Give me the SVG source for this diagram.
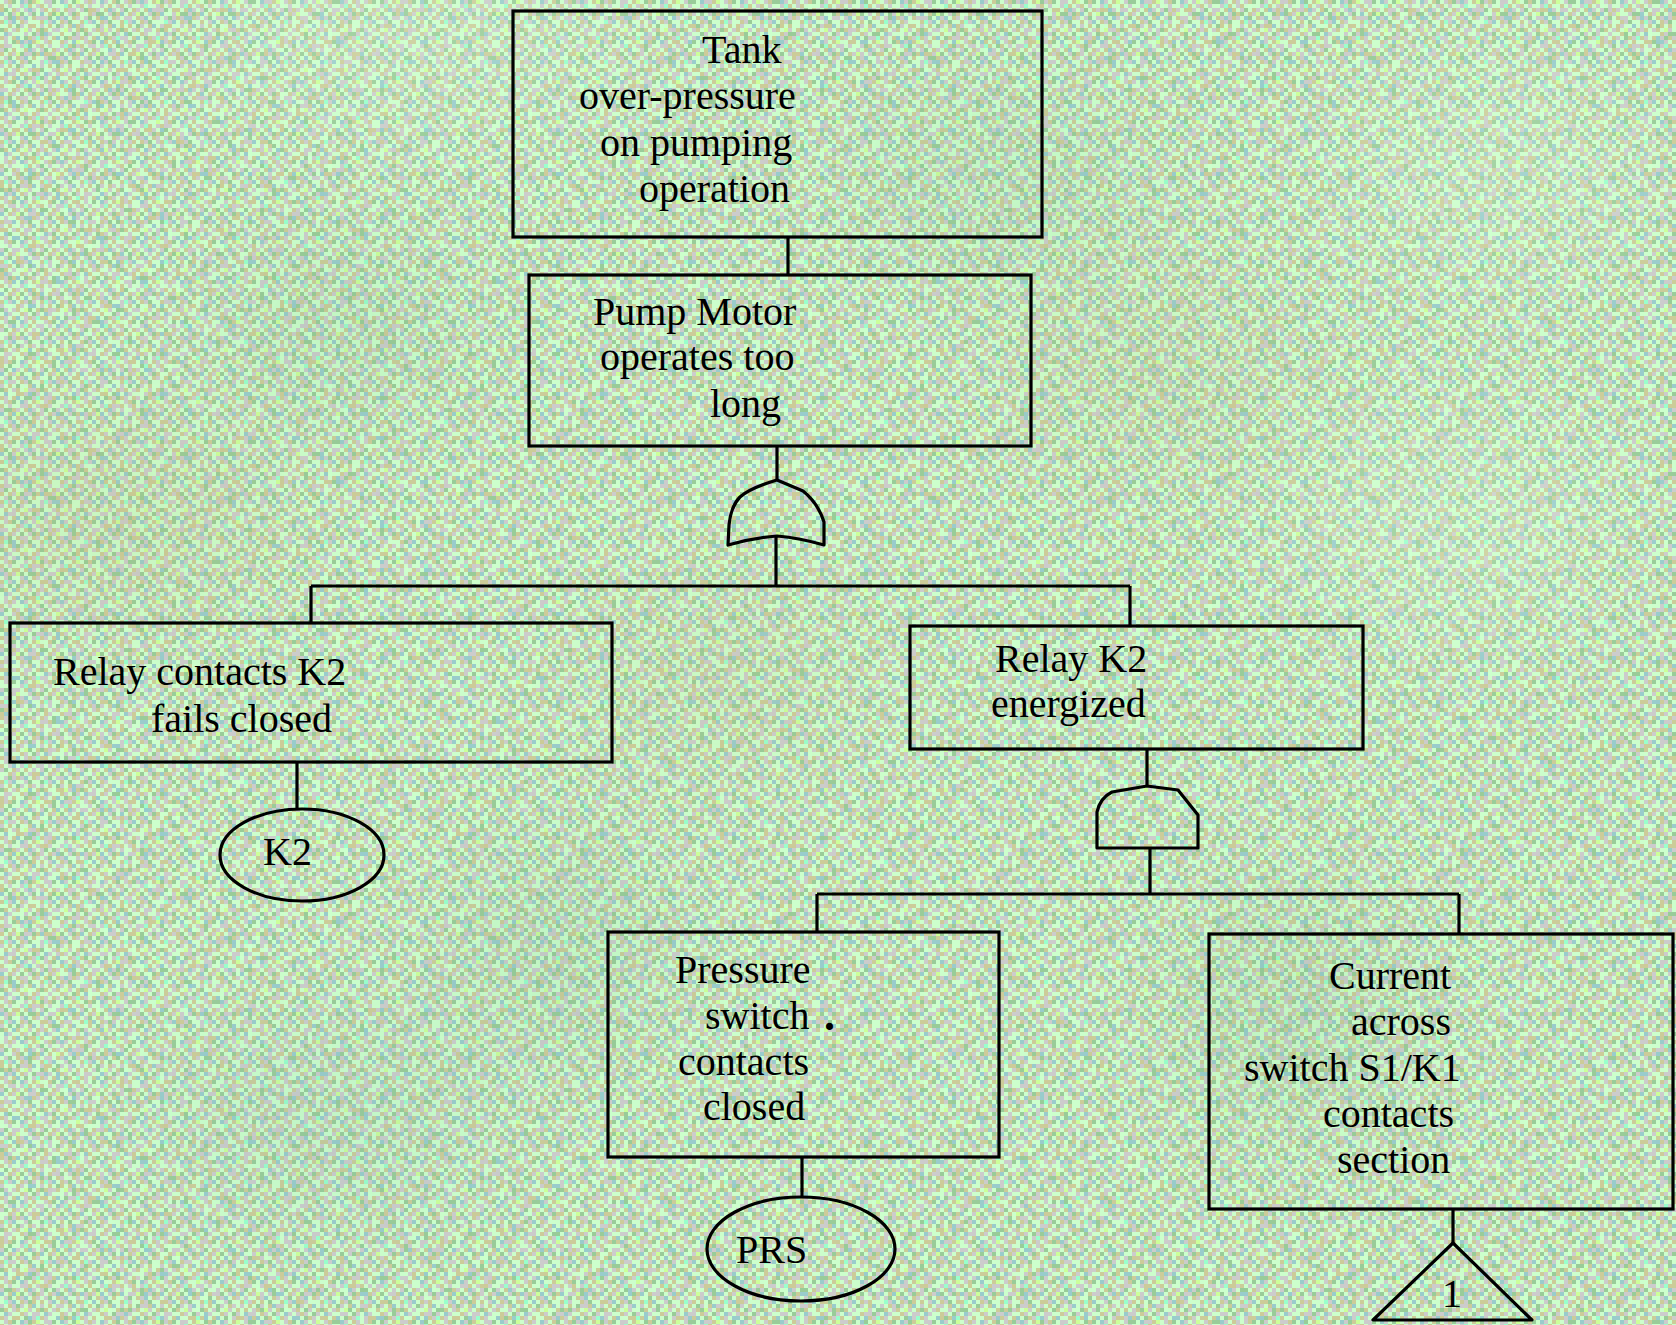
<svg xmlns="http://www.w3.org/2000/svg" width="1676" height="1325" viewBox="0 0 1676 1325">
  <style>
    .box { fill: none; stroke: #000; stroke-width: 3.2; }
    .ev { fill: none; stroke: #000; stroke-width: 3.2; }
    .gate { fill: none; stroke: #000; stroke-width: 3.2; stroke-linejoin: round; }
    .wire { fill: none; stroke: #000; stroke-width: 3.2; }
    text { font-family: "Liberation Serif", "Times New Roman", serif; font-size: 40px; fill: #000; }
    .dot { font-weight: bold; font-size: 44px; }
  </style>
  <defs>
    <!-- dithered pastel background, 4px cells -->
    <pattern id="dither" width="40" height="40" patternUnits="userSpaceOnUse">
      <rect width="40" height="40" fill="#cccccc"/>
      <path fill="#ccffcc" d="M0 0h4v4h-4zM16 0h4v4h-4zM28 0h4v4h-4zM4 4h4v4h-4zM12 4h4v4h-4zM32 4h4v4h-4zM8 8h4v4h-4zM20 8h4v4h-4zM36 8h4v4h-4zM4 12h4v4h-4zM24 12h4v4h-4zM0 16h4v4h-4zM12 16h4v4h-4zM28 16h4v4h-4zM16 20h4v4h-4zM32 20h4v4h-4zM4 24h4v4h-4zM12 24h4v4h-4zM24 24h4v4h-4zM36 24h4v4h-4zM8 28h4v4h-4zM20 28h4v4h-4zM32 28h4v4h-4zM0 32h4v4h-4zM16 32h4v4h-4zM28 32h4v4h-4zM8 36h4v4h-4zM20 36h4v4h-4zM16 4h4v4h-4zM36 20h4v4h-4zM12 32h4v4h-4z"/>
      <path fill="#cccc99" d="M8 0h4v4h-4zM32 0h4v4h-4zM0 4h4v4h-4zM28 4h4v4h-4zM12 8h4v4h-4zM24 8h4v4h-4zM8 12h4v4h-4zM36 12h4v4h-4zM16 16h4v4h-4zM32 16h4v4h-4zM0 20h4v4h-4zM20 20h4v4h-4zM8 24h4v4h-4zM28 24h4v4h-4zM4 28h4v4h-4zM16 28h4v4h-4zM36 28h4v4h-4zM20 32h4v4h-4zM0 36h4v4h-4zM12 36h4v4h-4zM28 36h4v4h-4z"/>
      <path fill="#99cc99" d="M12 0h4v4h-4zM4 8h4v4h-4zM20 12h4v4h-4zM32 12h4v4h-4zM8 16h4v4h-4zM28 20h4v4h-4zM16 24h4v4h-4zM0 28h4v4h-4zM32 32h4v4h-4zM24 36h4v4h-4z"/>
      <path fill="#99cccc" d="M20 0h4v4h-4zM28 8h4v4h-4zM0 12h4v4h-4zM24 16h4v4h-4zM12 20h4v4h-4zM32 24h4v4h-4zM4 32h4v4h-4zM16 36h4v4h-4z"/>
      <path fill="#99ffcc" d="M24 4h4v4h-4zM4 20h4v4h-4zM36 36h4v4h-4z"/>
      <path fill="#ccff99" d="M36 0h4v4h-4zM16 12h4v4h-4zM24 28h4v4h-4z"/>
    </pattern>
    <!-- second, offset-period layer to break up the tiling -->
    <pattern id="dither2" width="44" height="44" patternUnits="userSpaceOnUse">
      <path fill="#cccccc" d="M4 0h4v4h-4zM24 8h4v4h-4zM40 16h4v4h-4zM12 28h4v4h-4zM32 36h4v4h-4z"/>
      <path fill="#ccffcc" d="M16 4h4v4h-4zM36 12h4v4h-4zM0 24h4v4h-4zM20 32h4v4h-4zM8 40h4v4h-4zM28 20h4v4h-4z"/>
      <path fill="#99cc99" d="M28 0h4v4h-4zM8 12h4v4h-4zM40 32h4v4h-4z"/>
      <path fill="#cccc99" d="M0 8h4v4h-4zM32 24h4v4h-4zM16 40h4v4h-4z"/>
      <path fill="#99cccc" d="M12 16h4v4h-4zM28 40h4v4h-4z"/>
    </pattern>
    <filter id="soft" x="-50%" y="-50%" width="200%" height="200%">
      <feGaussianBlur stdDeviation="60"/>
    </filter>
  </defs>

  <!-- background -->
  <rect width="1676" height="1325" fill="url(#dither)"/>
  <rect width="1676" height="1325" fill="url(#dither2)"/>
  <g filter="url(#soft)" opacity="0.12">
    <ellipse cx="120" cy="520" rx="170" ry="90" fill="#a8a860"/>
    <ellipse cx="340" cy="330" rx="120" ry="80" fill="#60a070"/>
    <ellipse cx="1150" cy="370" rx="140" ry="90" fill="#b0b070"/>
    <ellipse cx="1000" cy="180" rx="150" ry="80" fill="#70b080"/>
    <ellipse cx="720" cy="680" rx="130" ry="80" fill="#b0b070"/>
    <ellipse cx="560" cy="950" rx="110" ry="110" fill="#60a080"/>
    <ellipse cx="1290" cy="1010" rx="110" ry="120" fill="#60a070"/>
    <ellipse cx="330" cy="1120" rx="160" ry="90" fill="#70a8a0"/>
  </g>
  <g filter="url(#soft)" opacity="0.18">
    <ellipse cx="1500" cy="170" rx="150" ry="100" fill="#e6ffe6"/>
    <ellipse cx="1450" cy="520" rx="160" ry="110" fill="#e6ffe6"/>
    <ellipse cx="420" cy="40" rx="200" ry="70" fill="#e6ffe6"/>
  </g>

  <!-- connectors -->
  <g id="connectors">
    <path class="wire" d="M788 237V275"/>
    <path class="wire" d="M777 446V480"/>
    <path class="wire" d="M776 536V586"/>
    <path class="wire" d="M311 586H1130"/>
    <path class="wire" d="M311 586V623"/>
    <path class="wire" d="M1130 586V626"/>
    <path class="wire" d="M297 762V809"/>
    <path class="wire" d="M1147 749V786"/>
    <path class="wire" d="M1150 848V894"/>
    <path class="wire" d="M817 894H1459"/>
    <path class="wire" d="M817 894V932"/>
    <path class="wire" d="M1459 894V934"/>
    <path class="wire" d="M802 1157V1197"/>
    <path class="wire" d="M1453 1209V1243"/>
  </g>

  <!-- top event -->
  <g id="tank-overpressure">
    <rect class="box" x="513" y="11" width="529" height="226"/>
    <text x="702" y="63">Tank</text>
    <text x="579" y="109">over-pressure</text>
    <text x="600" y="156">on pumping</text>
    <text x="639" y="202">operation</text>
  </g>

  <g id="pump-motor">
    <rect class="box" x="529" y="275" width="502" height="171"/>
    <text x="593" y="325">Pump Motor</text>
    <text x="600" y="370">operates too</text>
    <text x="710" y="417">long</text>
  </g>

  <!-- OR gate -->
  <g id="or-gate">
    <path class="gate" d="M777 480L803 491Q818 503 824 522L824 545Q800 538 777 536Q752 538 728 545L729 525Q731 506 740 497Q750 488 777 480Z"/>
  </g>

  <g id="relay-contacts">
    <rect class="box" x="10" y="623" width="602" height="139"/>
    <text x="53" y="685">Relay contacts K2</text>
    <text x="151" y="732">fails closed</text>
  </g>

  <g id="basic-k2">
    <ellipse class="ev" cx="302" cy="855" rx="82" ry="46"/>
    <text x="263" y="865">K2</text>
  </g>

  <g id="relay-energized">
    <rect class="box" x="910" y="626" width="453" height="123"/>
    <text x="995" y="672">Relay K2</text>
    <text x="991" y="717">energized</text>
  </g>

  <!-- AND gate -->
  <g id="and-gate">
    <path class="gate" d="M1147 786L1178 790L1198 815L1198 848L1097 848L1097 812Q1100 798 1112 792Z"/>
  </g>

  <g id="pressure-switch">
    <rect class="box" x="608" y="932" width="391" height="225"/>
    <text x="675" y="983">Pressure</text>
    <text x="705" y="1029">switch</text>
    <text class="dot" x="824" y="1030">.</text>
    <text x="678" y="1075">contacts</text>
    <text x="703" y="1120">closed</text>
  </g>

  <g id="basic-prs">
    <ellipse class="ev" cx="801" cy="1249" rx="94" ry="52"/>
    <text x="736" y="1263">PRS</text>
  </g>

  <g id="current-s1k1">
    <rect class="box" x="1209" y="934" width="464" height="275"/>
    <text x="1329" y="989">Current</text>
    <text x="1351" y="1035">across</text>
    <text x="1244" y="1081">switch S1/K1</text>
    <text x="1323" y="1127">contacts</text>
    <text x="1337" y="1173">section</text>
  </g>

  <!-- transfer symbol -->
  <g id="transfer-1">
    <polygon class="gate" points="1453,1243 1373,1320 1532,1320"/>
    <text x="1442" y="1307">1</text>
  </g>
</svg>
